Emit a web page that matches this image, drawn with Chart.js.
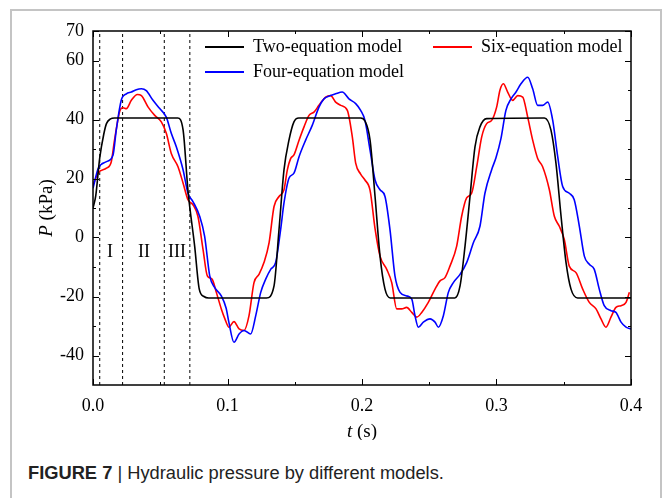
<!DOCTYPE html>
<html>
<head>
    <title>Hydraulic pressure by different models</title>
    <script src="https://cdn.jsdelivr.net/npm/chart.js@4.4.1/dist/chart.umd.min.js"></script>
    <style>
        body {
            margin: 0;
            background: white;
            width: 663px;
            height: 498px;
            overflow: hidden;
            position: relative;
        }
        .frame {
            position: absolute;
            left: 10px;
            top: 9px;
            width: 648px;
            height: 600px;
            border: 2px solid #c4c4c4;
            border-bottom: none;
        }
        #chart {
            position: absolute;
            left: 0;
            top: 0;
        }
        .caption {
            position: absolute;
            left: 28px;
            top: 462px;
            font-family: "Liberation Sans", Arial, sans-serif;
            font-size: 18.3px;
            color: #222;
            white-space: nowrap;
        }
    </style>
</head>
<body>
    <div class="frame"></div>
    <canvas id="chart" width="663" height="440"></canvas>
    <div class="caption"><b>FIGURE 7</b> | Hydraulic pressure by different models.</div>

    <script>
        // Two-equation model (black)
        const tTwo = [0, 0.002, 0.005, 0.008, 0.010, 0.013, 0.016, 0.063, 0.067, 0.0706, 0.0756, 0.079, 0.0825, 0.086,
            0.129, 0.1346, 0.1383, 0.142, 0.1457, 0.1494, 0.153, 0.199, 0.2022, 0.206, 0.2097, 0.2134, 0.2171, 0.221,
            0.269, 0.2729, 0.2766, 0.2803, 0.284, 0.2877, 0.2927, 0.3356, 0.3405, 0.3442, 0.348, 0.3517, 0.3554, 0.3603, 0.4];
        const pTwo = [10, 14, 27, 35, 38.6, 40.2, 40.5, 40.5, 36.4, 16, -3, -17.5, -20, -20.5,
            -20.5, -16.4, 2.7, 22.9, 33, 39.2, 40.5, 40.5, 39.5, 33, 13.9, -6.3, -17.5, -20.5,
            -20.5, -16.4, -2.9, 13.9, 30.7, 37.5, 40.3, 40.5, 36.4, 25.2, 7.2, -8.5, -17.5, -20.5, -20.5];

        // Four-equation model (blue)
        const tFour = [0, 0.004, 0.010, 0.0149, 0.0173, 0.021, 0.0248, 0.0285, 0.0322, 0.036, 0.0396, 0.0446, 0.0496,
            0.0545, 0.0582, 0.062, 0.067, 0.0706, 0.0743, 0.0793, 0.083, 0.0868, 0.0905, 0.0954, 0.099, 0.101, 0.1048,
            0.1086, 0.1123, 0.1172, 0.121, 0.1247, 0.1284, 0.1321, 0.1358, 0.1395, 0.142, 0.1457, 0.1494, 0.1532, 0.1581,
            0.163, 0.168, 0.1717, 0.1767, 0.1804, 0.1853, 0.1903, 0.1953, 0.199, 0.2022, 0.206, 0.2097, 0.2134, 0.2171,
            0.2208, 0.2245, 0.2283, 0.2332, 0.237, 0.2394, 0.2419, 0.2456, 0.2506, 0.2543, 0.2568, 0.2605, 0.2642, 0.2679,
            0.2729, 0.2778, 0.2828, 0.2877, 0.2914, 0.2964, 0.2996, 0.3033, 0.307, 0.3108, 0.3145, 0.3182, 0.3232, 0.3269,
            0.3306, 0.3343, 0.3381, 0.3418, 0.3455, 0.3492, 0.3541, 0.3578, 0.3616, 0.3653, 0.369, 0.3727, 0.3764, 0.3801,
            0.3851, 0.3888, 0.3926, 0.3963, 0.4];
        const pFour = [16.7, 23.5, 25.7, 28, 36.4, 46.5, 48.7, 49.3, 50.1, 50.4, 49.8, 46.5, 43.7,
            40.8, 35.3, 30.7, 22.9, 15, 12.2, 7.2, 0.4, -13, -17, -19.8, -24, -28.7, -35.5,
            -32.7, -31.5, -32.7, -26.5, -18.6, -14.1, -10.8, -8.5, 2.7, 11.7, 20.1, 21.8, 27.4, 33,
            38, 44.2, 47, 48.1, 48.7, 49.3, 47, 45.4, 43.1, 39.7, 29.6, 19.5, 16.2, 13.9,
            2.7, -13, -18.6, -19.8, -20.9, -26.5, -30.4, -28.7, -27.6, -28.7, -30.4, -26.5, -18.6, -15.3,
            -12.5, -8.5, -1.8, 3.8, 15, 23, 27, 33.5, 43.1, 47, 49.3, 52.1, 54.3, 50.4,
            44.8, 44.8, 45.9, 39.7, 27.4, 17.3, 15, 12.8, 3.8, -6.3, -9.1, -10.8, -17.5, -23.1,
            -24.8, -25.4, -28.7, -30.4, -31];

        // Six-equation model (red)
        const tSix = [0, 0.004, 0.010, 0.0136, 0.016, 0.020, 0.0223, 0.0248, 0.0285, 0.033, 0.036, 0.041, 0.0459,
            0.0508, 0.0545, 0.0582, 0.0632, 0.067, 0.0706, 0.0743, 0.078, 0.0818, 0.085, 0.0885, 0.0917, 0.0954, 0.098,
            0.101, 0.1048, 0.1086, 0.1123, 0.116, 0.1197, 0.1234, 0.1271, 0.1309, 0.1346, 0.1383, 0.142, 0.1445, 0.147,
            0.1494, 0.1532, 0.1569, 0.1606, 0.1643, 0.168, 0.173, 0.1767, 0.1804, 0.1842, 0.1891, 0.1928, 0.1953, 0.199,
            0.2022, 0.206, 0.2097, 0.2134, 0.2184, 0.2221, 0.2258, 0.2295, 0.2332, 0.237, 0.2407, 0.2444, 0.2493, 0.2543,
            0.258, 0.2617, 0.2654, 0.2704, 0.2741, 0.2778, 0.2815, 0.2853, 0.289, 0.2927, 0.2964, 0.3001, 0.3026, 0.3051,
            0.3083, 0.312, 0.3158, 0.3195, 0.3232, 0.3269, 0.3306, 0.3343, 0.3393, 0.343, 0.3467, 0.3504, 0.3541, 0.3591,
            0.3641, 0.369, 0.374, 0.3777, 0.3814, 0.3851, 0.3888, 0.3926, 0.3963, 0.3988];
        const pSix = [17.8, 22, 23.5, 25.7, 33, 43, 44, 43.7, 46.5, 48.5, 48.1, 44.2, 41.4,
            39.2, 35.3, 28.5, 24, 18.4, 12.8, 11.1, 7.2, -4, -13, -14.1, -18.6, -24.2, -27.5,
            -30.4, -28.5, -31, -31.5, -26.5, -15.3, -12.5, -8.5, -1.8, 10.5, 13.9, 16.2, 22.9, 26.8,
            28, 33, 37.5, 41.4, 42.5, 44.8, 47.6, 48.1, 45.9, 44.8, 43.1, 34.1, 25.2, 21.5,
            19.5, 16, 3, -6.3, -10.8, -15.3, -24.2, -24.2, -23.7, -25.4, -27, -25.4, -22, -17.5,
            -14.7, -13.6, -9.7, -2.9, 7.2, 13.4, 15, 24, 34.1, 38.6, 39.7, 44.2, 50, 52.1,
            49.3, 46.5, 48.1, 47.6, 40.8, 33, 26.8, 24, 16.2, 7.2, 3.8, -0.7, -9.7, -11.9,
            -17.5, -22, -24.2, -27.6, -30.4, -27, -23.7, -23.1, -22, -18.6];

        // dotted region boundaries and region labels
        const regionLines = [0.005, 0.022, 0.053, 0.072];
        const regionNames = ['I', 'II', 'III'];
        const regionNameT = [0.0126, 0.038, 0.0625];
        const regionNameP = -5;

        // axes
        const xMin = 0, xMax = 0.4, yMin = -50, yMax = 70;
        const xMajor = [0, 0.1, 0.2, 0.3, 0.4];
        const xMinor = [0.05, 0.15, 0.25, 0.35];
        const yMajor = [70, 60, 40, 20, 0, -20, -40];
        const yMinor = [50, 30, 10, -10, -30];

        const seriesNames = ['Two-equation model', 'Six-equation model', 'Four-equation model'];
        const seriesColors = ['#000000', '#ff0000', '#0000ff'];

        const serif = '"Liberation Serif", "Times New Roman", serif';

        function pairs(ts, ps) {
            return ts.map((t, i) => ({ x: t, y: ps[i] }));
        }

        const datasets = [
            { label: seriesNames[0], data: pairs(tTwo, pTwo), borderColor: seriesColors[0] },
            { label: seriesNames[2], data: pairs(tFour, pFour), borderColor: seriesColors[2] },
            { label: seriesNames[1], data: pairs(tSix, pSix), borderColor: seriesColors[1] }
        ].map(d => Object.assign(d, {
            borderWidth: 1.6,
            pointRadius: 0,
            fill: false,
            cubicInterpolationMode: 'monotone'
        }));

        regionLines.forEach(t => {
            datasets.push({
                label: '',
                data: [{ x: t, y: yMin }, { x: t, y: yMax }],
                borderColor: '#000',
                borderWidth: 1,
                borderDash: [3, 3],
                pointRadius: 0,
                fill: false
            });
        });

        // frame, inward ticks, axis titles, region names and legend
        const decorations = {
            id: 'decorations',
            afterDraw(chart) {
                const c = chart.ctx;
                const a = chart.chartArea;
                const xs = chart.scales.x, ys = chart.scales.y;
                c.save();
                c.strokeStyle = '#000';
                c.lineWidth = 1.5;
                c.strokeRect(a.left, a.top, a.right - a.left, a.bottom - a.top);

                c.lineWidth = 1;
                c.beginPath();
                const xt = (v, len) => {
                    const px = Math.round(xs.getPixelForValue(v)) + 0.5;
                    c.moveTo(px, a.bottom); c.lineTo(px, a.bottom - len);
                    c.moveTo(px, a.top); c.lineTo(px, a.top + len);
                };
                const yt = (v, len) => {
                    const py = Math.round(ys.getPixelForValue(v)) + 0.5;
                    c.moveTo(a.left, py); c.lineTo(a.left + len, py);
                    c.moveTo(a.right, py); c.lineTo(a.right - len, py);
                };
                xMajor.forEach(v => xt(v, 6));
                xMinor.forEach(v => xt(v, 3));
                yMajor.forEach(v => yt(v, 6));
                yMinor.forEach(v => yt(v, 3));
                c.stroke();

                // region names
                c.fillStyle = '#000';
                c.font = '18px ' + serif;
                c.textAlign = 'center';
                c.textBaseline = 'middle';
                regionNames.forEach((n, i) => {
                    c.fillText(n, xs.getPixelForValue(regionNameT[i]), ys.getPixelForValue(regionNameP));
                });

                // axis titles with italic symbols
                c.font = 'italic 19px ' + serif;
                const tW = c.measureText('t').width;
                c.font = '19px ' + serif;
                const sW = c.measureText(' (s)').width;
                let x0 = (a.left + a.right) / 2 - (tW + sW) / 2;
                const yTitle = a.bottom + 47;
                c.textAlign = 'left';
                c.font = 'italic 19px ' + serif;
                c.fillText('t', x0, yTitle);
                c.font = '19px ' + serif;
                c.fillText(' (s)', x0 + tW, yTitle);

                c.save();
                c.translate(a.left - 46, (a.top + a.bottom) / 2);
                c.rotate(-Math.PI / 2);
                c.font = 'italic 19px ' + serif;
                const pW = c.measureText('P').width;
                c.font = '19px ' + serif;
                const kW = c.measureText(' (kPa)').width;
                x0 = -(pW + kW) / 2;
                c.font = 'italic 19px ' + serif;
                c.fillText('P', x0, 0);
                c.font = '19px ' + serif;
                c.fillText(' (kPa)', x0 + pW, 0);
                c.restore();

                // legend
                const legend = [
                    { i: 0, x: a.left + 112, y: a.top + 16 },
                    { i: 1, x: a.left + 340, y: a.top + 16 },
                    { i: 2, x: a.left + 112, y: a.top + 41 }
                ];
                c.font = '18px ' + serif;
                c.textAlign = 'left';
                legend.forEach(e => {
                    c.strokeStyle = seriesColors[e.i];
                    c.lineWidth = 1.8;
                    c.beginPath();
                    c.moveTo(e.x, e.y);
                    c.lineTo(e.x + 39, e.y);
                    c.stroke();
                    c.fillText(seriesNames[e.i], e.x + 48, e.y);
                });
                c.restore();
            }
        };

        new Chart(document.getElementById('chart'), {
            type: 'line',
            data: { datasets: datasets },
            options: {
                responsive: false,
                animation: false,
                layout: { padding: { top: 31, right: 32, left: 0, bottom: 0 } },
                plugins: {
                    legend: { display: false },
                    tooltip: { enabled: false }
                },
                scales: {
                    x: {
                        type: 'linear',
                        min: xMin,
                        max: xMax,
                        grid: { display: false },
                        border: { display: false },
                        afterBuildTicks: s => { s.ticks = xMajor.map(v => ({ value: v })); },
                        afterFit: s => { s.height = 55; },
                        ticks: {
                            padding: 2,
                            color: '#000',
                            font: { family: serif, size: 18 },
                            maxRotation: 0,
                            callback: v => v.toFixed(1)
                        }
                    },
                    y: {
                        min: yMin,
                        max: yMax,
                        grid: { display: false },
                        border: { display: false },
                        afterBuildTicks: s => { s.ticks = yMajor.map(v => ({ value: v })); },
                        afterFit: s => { s.width = 93; },
                        ticks: {
                            padding: 1,
                            color: '#000',
                            font: { family: serif, size: 18 }
                        }
                    }
                }
            },
            plugins: [decorations]
        });
    </script>
</body>
</html>
